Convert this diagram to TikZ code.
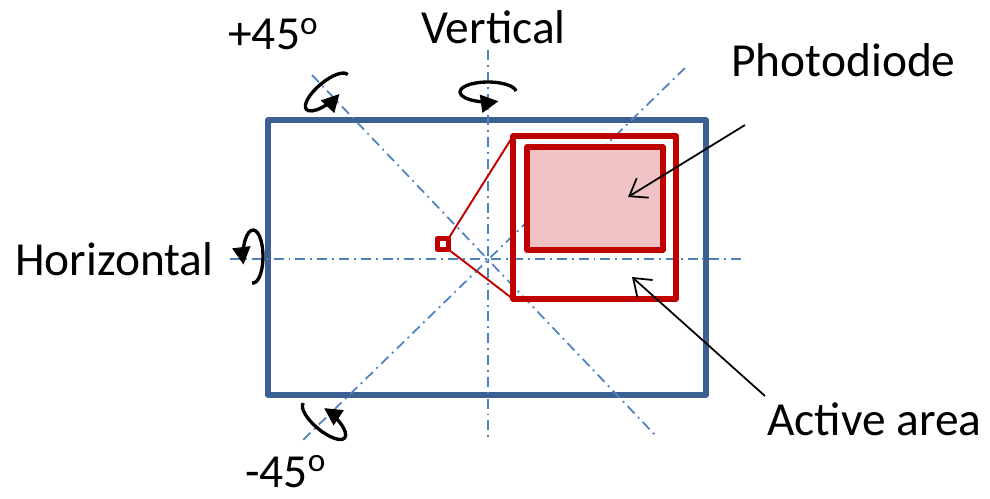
\documentclass[tikz,border=0pt]{standalone}
\usepackage{fontspec}
\setmainfont{Carlito}
\usetikzlibrary{arrows.meta, positioning, calc}
\definecolor{frameblue}{RGB}{61,96,146}
\definecolor{axisblue}{RGB}{79,129,189}
\definecolor{pdred}{RGB}{192,0,0}
\definecolor{pdfill}{RGB}{240,196,196}

\begin{document}
\begin{tikzpicture}[x=0.02cm, y=0.02cm,
    axisline/.style={axisblue, line width=1pt, dash pattern=on 5.7pt off 2.8pt on 1.1pt off 2.8pt},
    spin/.style={black, line width=1.9pt, -{Triangle[length=10pt, width=10pt]}},
    callout/.style={black, line width=1pt, -{Straight Barb[length=9pt, width=13pt]}},
    redbox/.style={draw=pdred, rectangle, line join=round, inner sep=0pt, outer sep=0pt},
    lbl/.style={inner sep=0pt, font=\fontsize{27}{32}\selectfont}]
    \useasboundingbox (0,0) rectangle (990,498);

    % Define centre and axis ends
    \coordinate (O) at (488,239);
    \coordinate (vtop) at (488,448);
    \coordinate (vbot) at (488,58);
    \coordinate (hleft) at (230,239);
    \coordinate (hright) at (745,239);
    \coordinate (ptop) at (312,423);
    \coordinate (pbot) at (657,61);
    \coordinate (mtop) at (685,430);
    \coordinate (mbot) at (303,58);

    % Sensor frame
    \draw[frameblue, line width=2.9pt, line join=round] (268,103) rectangle (706,378);

    % Rotation axes
    \draw[axisline] (vtop) -- (vbot);
    \draw[axisline] (hleft) -- (hright);
    \draw[axisline] (ptop) -- (pbot);
    \draw[axisline] (mtop) -- (mbot);

    % Pixel, active area and photodiode
    \node[redbox, line width=2.8pt, minimum size=0.22cm] (pix) at (443,254) {};
    \node[redbox, line width=3.2pt, minimum size=3.26cm] (active) at (594.5,280.5) {};
    \node[redbox, line width=3.2pt, fill=pdfill, minimum width=2.72cm, minimum height=2.06cm] (diode) at (595,299.5) {};
    \draw[pdred, line width=1.1pt] (pix.north east) -- (active.north west);
    \draw[pdred, line width=1.1pt] (pix.south east) -- (active.south west);

    % Rotation arrows
    \coordinate (vc) at (488,406);
    \coordinate (hc) at (253,241.5);
    \coordinate (pc) at (327,406);
    \coordinate (mc) at (324,77.5);
    \draw[spin] ($(vc)+(5:28 and 10)$) arc[start angle=5, end angle=292, x radius=28, y radius=10];
    \draw[spin] ($(hc)+(-95:10 and 26.5)$) arc[start angle=-95, end angle=198, x radius=10, y radius=26.5];
    \begin{scope}[shift={(pc)}, rotate=40]
      \draw[spin] (0:27 and 10) arc[start angle=0, end angle=288, x radius=27, y radius=10];
    \end{scope}
    \begin{scope}[shift={(mc)}, rotate=-40]
      \draw[spin] (180:27 and 10) arc[start angle=180, end angle=467, x radius=27, y radius=10];
    \end{scope}

    % Labels
    \node[lbl, anchor=base west] (hlabel) at (15,223) {Horizontal};
    \node[lbl, anchor=base west] (vlabel) at (421,455) {Vertical};
    \node[lbl, anchor=base west] (plabel) at (228,448) {+45\textsuperscript{o}};
    \node[lbl, anchor=base west] (mlabel) at (245,11) {-45\textsuperscript{o}};
    \node[lbl, anchor=base west] (pdlabel) at (731,421) {Photodiode};
    \node[lbl, anchor=base west] (aalabel) at (767,63) {Active area};

    % Callouts
    \coordinate (pdtail) at (745,373);
    \coordinate (pdtip) at (628,301);
    \coordinate (aatail) at (765,102);
    \coordinate (aatip) at (632,221);
    \draw[callout] (pdtail) -- (pdtip);
    \draw[callout] (aatail) -- (aatip);

\end{tikzpicture}
\end{document}
